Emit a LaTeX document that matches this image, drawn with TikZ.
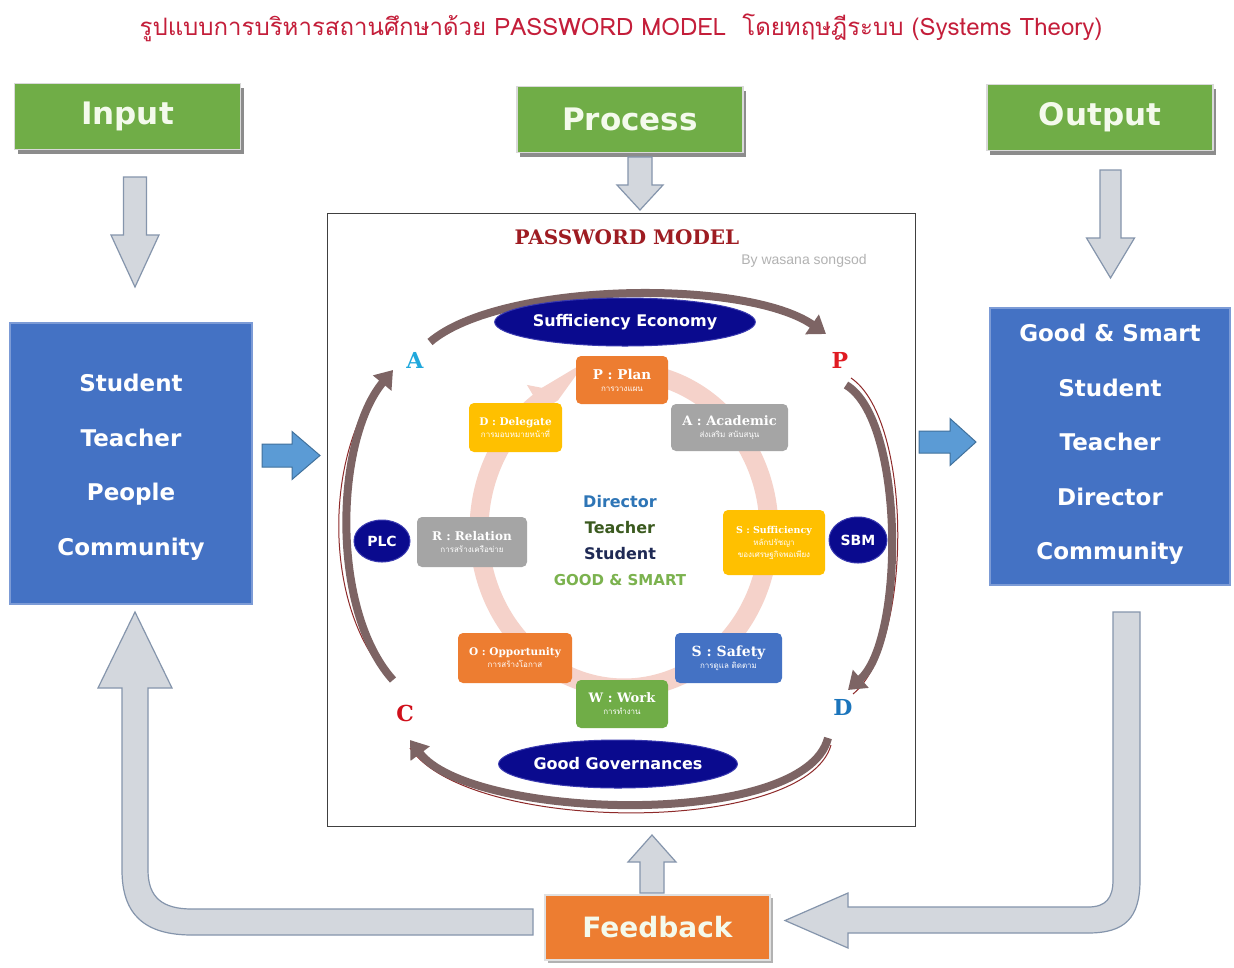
\documentclass[tikz,border=0pt]{standalone}
\usepackage{fontspec}
\usetikzlibrary{arrows.meta,shapes.geometric,calc,shadows}
\newfontfamily\hfont{DejaVu Sans}
\newfontfamily\sfont{DejaVu Serif}
\newfontfamily\lsans{Liberation Sans}
\newfontfamily\thaifont[Script=Thai]{Loma}
\definecolor{cgreen}{HTML}{70AD47}
\definecolor{cwhite}{HTML}{F4FAEC}
\definecolor{cblue}{HTML}{4472C4}
\definecolor{cblueb}{HTML}{7C9BD6}
\definecolor{corange}{HTML}{ED7D31}
\definecolor{cyellow}{HTML}{FFC000}
\definecolor{cgbox}{HTML}{A5A5A5}
\definecolor{cgray}{HTML}{D3D7DD}
\definecolor{cgrayb}{HTML}{8595AC}
\definecolor{cbarr}{HTML}{5B9BD5}
\definecolor{cbarrb}{HTML}{41719C}
\definecolor{cnavy}{HTML}{0A0A8E}
\definecolor{cnavyb}{HTML}{3A3AB0}
\definecolor{cpink}{HTML}{F5D2CA}
\definecolor{carc}{HTML}{7D6464}
\definecolor{carcline}{HTML}{8E2A2A}
\definecolor{ctitle}{HTML}{C41E3A}
\definecolor{cmodel}{HTML}{9E1C22}
\definecolor{cdir}{HTML}{2E75B6}
\definecolor{ctea}{HTML}{3B5A1F}
\definecolor{cstu}{HTML}{1F2A55}
\definecolor{cgood}{HTML}{7BB24E}
\definecolor{cA}{HTML}{20A8DC}
\definecolor{cP}{HTML}{E01B22}
\definecolor{cD}{HTML}{1B75BC}
\definecolor{cC}{HTML}{D0101B}
\newcommand\garrowdown[6]{\filldraw[garrow] (#1-#4,#2) -- (#1+#4,#2) -- (#1+#4,#3-#6) -- (#1+#5,#3-#6) -- (#1,#3) -- (#1-#5,#3-#6) -- (#1-#4,#3-#6) -- cycle;}
\newcommand\garrowup[6]{\filldraw[garrow] (#1-#4,#2) -- (#1+#4,#2) -- (#1+#4,#3+#6) -- (#1+#5,#3+#6) -- (#1,#3) -- (#1-#5,#3+#6) -- (#1-#4,#3+#6) -- cycle;}
\newcommand\barrowright[6]{\filldraw[barrow] (#1,#3-#4) -- (#2-#6,#3-#4) -- (#2-#6,#3-#5) -- (#2,#3) -- (#2-#6,#3+#5) -- (#2-#6,#3+#4) -- (#1,#3+#4) -- cycle;}
\begin{document}
\begin{tikzpicture}[x=1pt,y=-1pt,
 hbox/.style={fill=cgreen, draw=black!15, line width=1.5pt, minimum width=226pt, minimum height=66pt, inner sep=0pt, font=\hfont\bfseries\fontsize{31}{31}\selectfont, text=cwhite, drop shadow={shadow xshift=3pt,shadow yshift=-4pt,fill=black!45,opacity=1}},
 bluebox/.style={fill=cblue, draw=cblueb, line width=2.5pt, inner sep=0pt},
 btext/.style={text=white, font=\hfont\bfseries\fontsize{23}{54.5}\selectfont, align=center},
 garrow/.style={fill=cgray, draw=cgrayb, line width=1.2pt},
 barrow/.style={fill=cbarr, draw=cbarrb, line width=1pt},
 mbox/.style={rounded corners=5pt, inner sep=1pt, align=center, text=white},
 oval/.style={ellipse, fill=cnavy, draw=cnavyb, line width=1pt, text=white, font=\hfont\bfseries\fontsize{16}{16}\selectfont, inner sep=0pt},
 marc/.style={draw=carc, line width=8pt, -{Triangle[length=17pt,width=23pt]}},
 thinarc/.style={draw=carcline, line width=1pt},
 letter/.style={font=\sfont\bfseries\fontsize{22}{22}\selectfont},
 ctext/.style={font=\hfont\bfseries\fontsize{16}{16}\selectfont}]
\useasboundingbox[fill=white] (0,0) rectangle (1234,967);

% title
\node[text=ctitle, font=\thaifont\fontsize{24}{24}\selectfont] (title) at (621,28) {รูปแบบการบริหารสถานศึกษาด้วย PASSWORD MODEL\ \ โดยทฤษฎีระบบ (Systems Theory)};

% headers
\node[hbox] (inp) at (127.5,116.5) {Input};
\node[hbox] (proc) at (630,119.5) {Process};
\node[hbox] (outp) at (1100,117.5) {Output};

% side boxes
\node[bluebox, minimum width=242pt, minimum height=281pt] (lbox) at (131,463.5) {};
\node[btext] (ltext) at (131,467) {Student\\Teacher\\People\\Community};
\node[bluebox, minimum width=240pt, minimum height=277pt] (rbox) at (1110,446.5) {};
\node[btext] (rtext) at (1110,444.5) {Good \& Smart\\Student\\Teacher\\Director\\Community};

% center frame
\node[draw=black!75, line width=1pt, minimum width=588pt, minimum height=613pt, inner sep=0pt] (frame) at (621,519.5) {};

% feedback
\node[fill=corange, draw=black!12, line width=1.5pt, minimum width=225pt, minimum height=65pt, inner sep=0pt, font=\hfont\bfseries\fontsize{28}{28}\selectfont, text=cwhite, drop shadow={shadow xshift=3pt,shadow yshift=-3pt,fill=black!30,opacity=1}] (fb) at (657.5,927.5) {Feedback};

% gray straight arrows
\garrowdown{135}{177}{287}{11.5}{24}{52}
\garrowdown{640}{157}{210}{12}{23}{25}
\garrowdown{1110.5}{170}{278}{10.5}{24}{40}
\garrowup{652}{893}{835}{12}{24}{27}

% blue arrows
\barrowright{262}{320}{455.5}{11.5}{24}{28}
\barrowright{919}{976}{442}{11}{23.5}{26}

% curved feedback arrows
\filldraw[garrow] (1113,612) -- (1140,612) -- (1140,880) .. controls (1140,918) and (1125,933) .. (1088,933) -- (848,933) -- (848,948) -- (785,920.5) -- (848,893) -- (848,907) -- (1088,907) .. controls (1106,907) and (1113,898) .. (1113,880) -- cycle;
\filldraw[garrow] (533,909) -- (533,935) -- (192,935) .. controls (145,935) and (122,915) .. (122,870) -- (122,688) -- (98,688) -- (135,612) -- (172,688) -- (148,688) -- (148,870) .. controls (148,898) and (163,909) .. (192,909) -- cycle;

% model heading
\node[text=cmodel, font=\sfont\bfseries\fontsize{20}{20}\selectfont] (mtitle) at (627,237) {PASSWORD\ MODEL};
\node[text=black!30, font=\lsans\fontsize{14}{14}\selectfont] (by) at (804,261) {By wasana songsod};

% pink ring
\draw[cpink, line width=19pt, -{Triangle[length=22pt,width=38pt]}] plot[domain=-78:242, samples=120, smooth] ({624+145*cos(\x)},{530+158*sin(\x)});

% thin outline lines
\draw[thinarc] (851,378) .. controls (913,420) and (913,645) .. (853,694);
\draw[thinarc] (410,748) .. controls (470,835) and (806,835) .. (831,745);
\draw[thinarc] (392,680) .. controls (321,612) and (321,440) .. (392,372);

% big arcs
\draw[marc] (430,342) .. controls (500,282) and (745,278) .. (826,334);
\draw[marc] (846,385) .. controls (905,420) and (905,640) .. (848,690);
\draw[marc] (828,738) .. controls (805,830) and (470,820) .. (410,740);
\draw[marc] (393,680) .. controls (330,610) and (335,440) .. (393,370);

% letters
\node[letter, text=cA] (lA) at (415,360) {A};
\node[letter, text=cP] (lP) at (840,360) {P};
\node[letter, text=cD] (lD) at (843,707) {D};
\node[letter, text=cC] (lC) at (405,713) {C};

% ovals
\node[oval, minimum width=215pt, minimum height=48pt] (se) at (625,322) {Sufficiency Economy};
\node[oval, minimum width=212pt, minimum height=48pt] (gg) at (618,764) {Good Governances};
\node[oval, minimum width=56pt, minimum height=42pt, font=\hfont\bfseries\fontsize{14}{14}\selectfont] (plc) at (382,541) {PLC};
\node[oval, minimum width=58pt, minimum height=46pt, font=\hfont\bfseries\fontsize{14}{14}\selectfont] (sbm) at (858,540) {SBM};

% model boxes
\node[mbox, fill=corange, minimum width=92pt, minimum height=48pt] (bP) at (622,380) {{\sfont\bfseries\fontsize{13.5}{16}\selectfont P : Plan}\\{\thaifont\fontsize{8}{11}\selectfont การวางแผน}};
\node[mbox, fill=cgbox, minimum width=117pt, minimum height=47pt] (bA) at (729.5,427.5) {{\sfont\bfseries\fontsize{13}{16}\selectfont A : Academic}\\{\thaifont\fontsize{8}{11}\selectfont ส่งเสริม สนับสนุน}};
\node[mbox, fill=cyellow, minimum width=93pt, minimum height=49pt] (bD) at (515.5,427.5) {{\sfont\bfseries\fontsize{10.5}{14}\selectfont D : Delegate}\\{\thaifont\fontsize{8}{11}\selectfont การมอบหมายหน้าที่}};
\node[mbox, fill=cgbox, minimum width=110pt, minimum height=50pt] (bR) at (472,542) {{\sfont\bfseries\fontsize{12}{15}\selectfont R : Relation}\\{\thaifont\fontsize{8}{11}\selectfont การสร้างเครือข่าย}};
\node[mbox, fill=cyellow, minimum width=102pt, minimum height=65pt] (bS1) at (774,542.5) {{\sfont\bfseries\fontsize{9.5}{13}\selectfont S : Sufficiency}\\{\thaifont\fontsize{8}{12}\selectfont หลักปรัชญา}\\{\thaifont\fontsize{8}{12}\selectfont ของเศรษฐกิจพอเพียง}};
\node[mbox, fill=corange, minimum width=114pt, minimum height=50pt] (bO) at (515,658) {{\sfont\bfseries\fontsize{10.5}{14}\selectfont O : Opportunity}\\{\thaifont\fontsize{8}{11}\selectfont การสร้างโอกาส}};
\node[mbox, fill=cgreen, minimum width=92pt, minimum height=48pt] (bW) at (622,704) {{\sfont\bfseries\fontsize{13}{16}\selectfont W : Work}\\{\thaifont\fontsize{8}{11}\selectfont การทำงาน}};
\node[mbox, fill=cblue, minimum width=107pt, minimum height=50pt] (bS2) at (728.5,658) {{\sfont\bfseries\fontsize{14}{17}\selectfont S : Safety}\\{\thaifont\fontsize{8}{11}\selectfont การดูแล ติดตาม}};

% center texts
\node[ctext, text=cdir] (cdir) at (620,502) {Director};
\node[ctext, text=ctea] (ctea) at (620,528) {Teacher};
\node[ctext, text=cstu] (cstu) at (620,554) {Student};
\node[ctext, text=cgood, font=\hfont\bfseries\fontsize{15}{15}\selectfont] (cgood) at (620,580) {GOOD \& SMART};
\end{tikzpicture}
\end{document}
